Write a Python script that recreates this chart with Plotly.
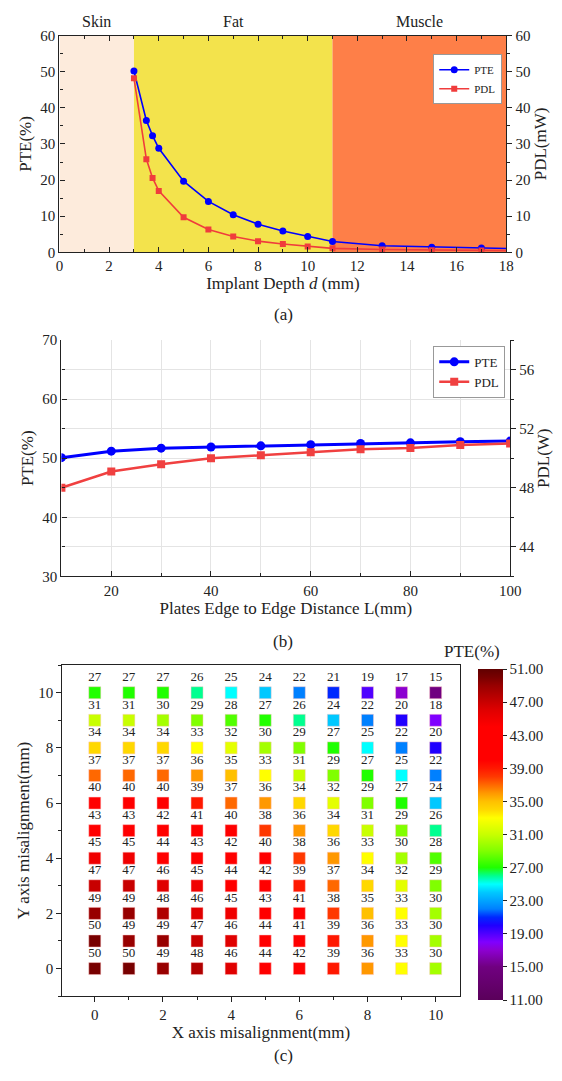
import plotly.graph_objects as go

# ---------------- (a) implant depth sweep ----------------
depth_pte = [3, 3.5, 3.75, 4, 5, 6, 7, 8, 9, 10, 11, 13, 15, 17, 19]
pte_depth = [50.2, 36.5, 32.3, 28.8, 19.7, 14.1, 10.4, 7.8, 5.9, 4.4, 3.0, 1.8, 1.4, 1.2, 0.9]
depth_pdl = [3, 3.5, 3.75, 4, 5, 6, 7, 8, 9, 10, 11, 13, 15, 17, 19]
pdl_depth = [48.2, 25.8, 20.6, 17.0, 9.7, 6.3, 4.4, 3.1, 2.3, 1.6, 1.1, 0.8, 0.6, 0.5, 0.4]
tissue_names = ["Skin", "Fat", "Muscle"]
tissue_bounds = [(0, 3), (3, 11), (11, 18)]
tissue_colors = ["#fdebdc", "#f3e34c", "#fe7f48"]

# ---------------- (b) plate edge distance sweep ----------------
dist_L = [10, 20, 30, 40, 50, 60, 70, 80, 90, 100]
pte_L = [50.1, 51.2, 51.7, 51.9, 52.1, 52.3, 52.5, 52.6, 52.8, 52.9]
pdl_L = [48.0, 49.1, 49.6, 50.0, 50.2, 50.4, 50.6, 50.7, 50.9, 51.0]

# ---------------- (c) lateral misalignment map ----------------
mis_x = list(range(11))
mis_y = list(range(11))
# rows from Y = 0 up to Y = 10, columns X = 0..10
pte_grid = [
    [50, 50, 49, 48, 46, 44, 42, 39, 36, 33, 30],
    [50, 49, 49, 47, 46, 44, 41, 39, 36, 33, 30],
    [49, 49, 48, 46, 45, 43, 41, 38, 35, 33, 30],
    [47, 47, 46, 45, 44, 42, 39, 37, 34, 32, 29],
    [45, 45, 44, 43, 42, 40, 38, 36, 33, 30, 28],
    [43, 43, 42, 41, 40, 38, 36, 34, 31, 29, 26],
    [40, 40, 40, 39, 37, 36, 34, 32, 29, 27, 24],
    [37, 37, 37, 36, 35, 33, 31, 29, 27, 25, 22],
    [34, 34, 34, 33, 32, 30, 29, 27, 25, 22, 20],
    [31, 31, 30, 29, 28, 27, 26, 24, 22, 20, 18],
    [27, 27, 27, 26, 25, 24, 22, 21, 19, 17, 15],
]
cbar_ticks = [11, 15, 19, 23, 27, 31, 35, 39, 43, 47, 51]

# rainbow palette anchored on PTE values
c_lo, c_hi = 11, 51
palette_anchors = [
    (11, "#5a005a"), (15, "#700080"), (17, "#8c00d0"), (18, "#8000ff"),
    (19, "#5000ff"), (20, "#2000ff"), (21, "#0028ff"), (22, "#0080ff"),
    (24, "#00c8ff"), (25, "#00ffff"), (26, "#00ff90"), (27, "#20ff00"),
    (29, "#80ff00"), (31, "#c8ff00"), (33, "#ffff00"), (34, "#ffd800"),
    (35, "#ffc000"), (36, "#ff9800"), (37, "#ff6800"), (38, "#ff3800"),
    (39, "#ff1800"), (40, "#ff0000"), (44, "#ff0000"), (45, "#f00000"),
    (46, "#e00000"), (47, "#c80000"), (48, "#b00000"), (49, "#980000"),
    (50, "#780000"), (51, "#600000"),
]
colorscale = [[(v - c_lo) / (c_hi - c_lo), c] for v, c in palette_anchors]

SERIF = "Times New Roman, Liberation Serif, DejaVu Serif, serif"
INK = "#222222"
W, H = 562, 1081


def px_x(a, b):
    return [a / W, b / W]


def px_y(top, bottom):
    return [1 - bottom / H, 1 - top / H]


fig = go.Figure()

# (a) traces
fig.add_trace(go.Scatter(
    x=depth_pte, y=pte_depth, name="PTE", mode="lines+markers",
    line=dict(color="#0000ff", width=1.6),
    marker=dict(symbol="circle", size=7, color="#0000ff"),
    xaxis="x", yaxis="y", legend="legend",
))
fig.add_trace(go.Scatter(
    x=depth_pdl, y=pdl_depth, name="PDL", mode="lines+markers",
    line=dict(color="#f03c3c", width=1.6),
    marker=dict(symbol="square", size=6, color="#f03c3c"),
    xaxis="x", yaxis="y2", legend="legend",
))

# (b) traces
fig.add_trace(go.Scatter(
    x=dist_L, y=pte_L, name="PTE", mode="lines+markers",
    line=dict(color="#0000ff", width=3),
    marker=dict(symbol="circle", size=9, color="#0000ff"),
    xaxis="x2", yaxis="y3", legend="legend2",
))
fig.add_trace(go.Scatter(
    x=dist_L, y=pdl_L, name="PDL", mode="lines+markers",
    line=dict(color="#f04040", width=2.5),
    marker=dict(symbol="square", size=8, color="#f04040"),
    xaxis="x2", yaxis="y4", legend="legend2",
))

# (c) misalignment grid
gx, gy, gv = [], [], []
for j, yy in enumerate(mis_y):
    for i, xx in enumerate(mis_x):
        gx.append(xx)
        gy.append(yy)
        gv.append(pte_grid[j][i])

fig.add_trace(go.Scatter(
    x=gx, y=gy, mode="markers+text", text=[str(v) for v in gv],
    textposition="top center",
    textfont=dict(family=SERIF, size=13, color=INK),
    marker=dict(
        symbol="square", size=12, color=gv, colorscale=colorscale,
        cmin=c_lo, cmax=c_hi,
        line=dict(width=0.8, color="rgba(255,200,200,0.6)"),
        colorbar=dict(
            x=487 / W, xanchor="left", y=1 - 671 / H, yanchor="top",
            len=336 / H, lenmode="fraction", thickness=25, ypad=0, xpad=0,
            outlinewidth=0, tickvals=cbar_ticks,
            ticktext=[f"{t:.2f}" for t in cbar_ticks],
            ticks="outside", ticklen=4, tickcolor=INK,
            tickfont=dict(family=SERIF, size=15, color=INK),
        ),
    ),
    showlegend=False, xaxis="x3", yaxis="y5", cliponaxis=False,
))

axis_font = dict(family=SERIF, size=15, color=INK)
title_font = dict(family=SERIF, size=17, color=INK)
frame = dict(showline=True, linecolor=INK, linewidth=1.3, zeroline=False,
             showgrid=False, tickcolor=INK, tickfont=axis_font)

shapes = []
for (x0, x1), col in zip(tissue_bounds, tissue_colors):
    shapes.append(dict(type="rect", xref="x", yref="y domain", x0=x0, x1=x1,
                       y0=0, y1=1, fillcolor=col, line=dict(width=0),
                       layer="below"))

annotations = []
for name, (x0, x1) in zip(tissue_names, tissue_bounds):
    annotations.append(dict(text=name, x=(x0 + x1) / 2, xref="x",
                            y=1 - 14 / H, yref="paper", yanchor="middle",
                            showarrow=False,
                            font=dict(family=SERIF, size=16, color=INK)))
for lbl, ypix in [("(a)", 311), ("(b)", 643), ("(c)", 1063)]:
    annotations.append(dict(text=lbl, x=287 / W, xref="paper", y=1 - ypix / H,
                            yref="paper", yanchor="middle", showarrow=False,
                            font=dict(family=SERIF, size=17, color=INK)))
# colour bar heading
annotations.append(dict(text="PTE(%)", x=512 / W, xref="paper", y=1 - 653 / H,
                        yref="paper", yanchor="middle", showarrow=False,
                        font=dict(family=SERIF, size=17, color=INK)))

fig.update_layout(
    width=W, height=H, margin=dict(l=0, r=0, t=0, b=0),
    paper_bgcolor="white", plot_bgcolor="rgba(0,0,0,0)",
    font=dict(family=SERIF, color=INK),
    shapes=shapes, annotations=annotations,
    # ----- (a)
    xaxis=dict(domain=px_x(57, 516), anchor="y", range=[0, 18], dtick=2,
               ticks="inside", ticklen=5, mirror="ticks",
               minor=dict(ticks="inside", ticklen=3, dtick=1, tickcolor=INK),
               title=dict(text="Implant Depth <i>d</i> (mm)", font=title_font,
                          standoff=2),
               **frame),
    yaxis=dict(domain=px_y(28, 248), anchor="x", range=[0, 60], dtick=10,
               ticks="inside", ticklen=5,
               minor=dict(ticks="inside", ticklen=3, dtick=5, tickcolor=INK),
               title=dict(text="PTE(%)", font=title_font, standoff=4),
               **frame),
    yaxis2=dict(overlaying="y", side="right", anchor="x", range=[0, 60],
                dtick=10, ticks="outside", ticklen=5,
                minor=dict(ticks="outside", ticklen=3, dtick=5, tickcolor=INK),
                title=dict(text="PDL(mW)", font=title_font, standoff=4),
                **frame),
    legend=dict(x=441 / W, y=1 - 47 / H, xanchor="left", yanchor="top",
                bgcolor="white", bordercolor="#999999", borderwidth=1,
                font=dict(family=SERIF, size=11, color=INK),
                itemwidth=30, tracegroupgap=0),
    # ----- (b)
    xaxis2=dict(domain=px_x(59, 520), anchor="y3", range=[10, 100],
                tickvals=[20, 40, 60, 80, 100], ticks="inside", ticklen=5,
                minor=dict(ticks="inside", ticklen=3, dtick=10,
                           tickcolor=INK, showgrid=True,
                           gridcolor="#e4e4e4", gridwidth=1),
                title=dict(text="Plates Edge to Edge Distance L(mm)",
                           font=title_font, standoff=2),
                **{**frame, "showgrid": True, "gridcolor": "#e4e4e4"}),
    yaxis3=dict(domain=px_y(337, 577), anchor="x2", range=[30, 70], dtick=10,
                ticks="inside", ticklen=5,
                minor=dict(ticks="inside", ticklen=3, dtick=5, tickcolor=INK,
                           showgrid=True, gridcolor="#e4e4e4", gridwidth=1),
                title=dict(text="PTE(%)", font=title_font, standoff=4),
                **{**frame, "showgrid": True, "gridcolor": "#e4e4e4"}),
    yaxis4=dict(overlaying="y3", side="right", anchor="x2", range=[42, 58],
                tickvals=[44, 48, 52, 56], ticks="outside", ticklen=5,
                minor=dict(ticks="outside", ticklen=3, dtick=2, tickcolor=INK),
                title=dict(text="PDL(W)", font=title_font, standoff=0),
                **frame),
    legend2=dict(x=441 / W, y=1 - 343 / H, xanchor="left", yanchor="top",
                 bgcolor="white", bordercolor="#999999", borderwidth=1,
                 font=dict(family=SERIF, size=13, color=INK),
                 itemwidth=30, tracegroupgap=0),
    # ----- (c)
    xaxis3=dict(domain=px_x(60, 468), anchor="y5", range=[-0.95, 10.7],
                dtick=2, ticks="outside", ticklen=5, mirror=True,
                minor=dict(ticks="outside", ticklen=3, dtick=1, tickcolor=INK),
                title=dict(text="X axis misalignment(mm)", font=title_font,
                           standoff=2),
                **frame),
    yaxis5=dict(domain=px_y(667, 1003), anchor="x3", range=[-1, 11],
                dtick=2, ticks="outside", ticklen=5, mirror=True,
                minor=dict(ticks="outside", ticklen=3, dtick=1, tickcolor=INK),
                title=dict(text="Y axis misalignment(mm)", font=title_font,
                           standoff=4),
                **frame),
)

fig.write_html("out.html")
